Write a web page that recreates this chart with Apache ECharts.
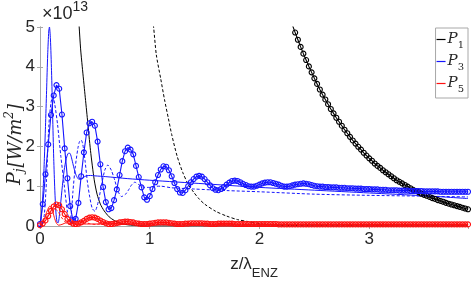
<!DOCTYPE html>
<html><head><meta charset="utf-8">
<script src="https://cdn.jsdelivr.net/npm/echarts@6/dist/echarts.min.js"></script>
<style>html,body{margin:0;padding:0;background:#fff}#c{width:471px;height:284px}</style>
</head><body><div id="c"></div>
<script>
// ---- data (values in units of 1e13 W/m^2, z in units of lambda_ENZ) ----
const zStep = 0.025;          // sampling step of the marker curves
const p3MarkerStart = 0;
const p5MarkerStart = 0;
const p1MarkerStart = 2.3;

const p3Markers = [
  0.05,0.55,1.30,2.05,2.79,3.28,3.54,3.45,2.80,1.95,
  1.20,0.50,0.15,0.18,0.58,1.25,1.85,2.35,2.58,2.62,
  2.52,2.12,1.55,0.98,0.60,0.42,0.45,0.65,0.92,1.28,
  1.63,1.88,1.97,1.92,1.80,1.51,1.23,0.97,0.72,0.66,
  0.75,0.93,1.10,1.28,1.42,1.50,1.49,1.40,1.25,1.08,
  0.93,0.84,0.83,0.90,1.00,1.10,1.18,1.24,1.26,1.24,
  1.18,1.10,1.02,0.95,0.91,0.90,0.93,0.98,1.04,1.09,
  1.13,1.14,1.13,1.10,1.06,1.03,1.00,0.99,0.99,1.01,
  1.04,1.07,1.09,1.10,1.10,1.08,1.06,1.04,1.01,0.99,
  0.99,1.00,1.02,1.04,1.05,1.06,1.07,1.06,1.05,1.03,
  1.01,1.00,0.99,0.99,0.98,0.98,0.97,0.97,0.97,0.96,
  0.96,0.96,0.95,0.95,0.95,0.94,0.94,0.94,0.93,0.93,
  0.93,0.92,0.92,0.92,0.91,0.91,0.91,0.90,0.90,0.90,
  0.90,0.89,0.89,0.89,0.89,0.88,0.88,0.88,0.88,0.88,
  0.87,0.87,0.87,0.87,0.87,0.87,0.86,0.86,0.86,0.86,
  0.86,0.86,0.86,0.86,0.86,0.86,0.86
];
const p5Markers = [
  0.02,0.06,0.14,0.25,0.38,0.49,0.54,0.52,0.42,0.30,
  0.18,0.10,0.06,0.05,0.06,0.09,0.13,0.18,0.21,0.22,
  0.21,0.18,0.14,0.10,0.07,0.05,0.05,0.06,0.07,0.09,
  0.10,0.11,0.11,0.10,0.09,0.07,0.06,0.05,0.05,0.05,
  0.06,0.07,0.08,0.09,0.09,0.09,0.09,0.08,0.07,0.06,
  0.05,0.05,0.05,0.06,0.06,0.07,0.07,0.07,0.07,0.07,
  0.06,0.06,0.05,0.05,0.05,0.06,0.06,0.06,0.06,0.06,
  0.06,0.05,0.05,0.05,0.05,0.05,0.05,0.05,0.05,0.05,
  0.05,0.05,0.05,0.05,0.05,0.05,0.05,0.04,0.04,0.04,
  0.04,0.04,0.04,0.04,0.04,0.04,0.04,0.04,0.04,0.04,
  0.04,0.04,0.04,0.04,0.04,0.04,0.04,0.04,0.04,0.04,
  0.04,0.04,0.04,0.04,0.04,0.04,0.04,0.04,0.04,0.04,
  0.04,0.04,0.04,0.04,0.04,0.04,0.04,0.04,0.04,0.04,
  0.04,0.04,0.04,0.04,0.04,0.04,0.04,0.04,0.04,0.04,
  0.04,0.04,0.04,0.04,0.04,0.04,0.04,0.04,0.04,0.04,
  0.04,0.04,0.04,0.04,0.04,0.04,0.04
];
const p1Markers = [
  5.05,4.86,4.68,4.50,4.33,4.17,4.01,3.86,3.71,
  3.57,3.43,3.30,3.18,3.06,2.94,2.83,2.72,2.62,2.52,
  2.42,2.33,2.24,2.15,2.07,1.99,1.92,1.84,1.77,1.70,
  1.64,1.57,1.51,1.46,1.40,1.35,1.30,1.25,1.20,1.15,
  1.11,1.07,1.03,0.99,0.95,0.91,0.88,0.85,0.81,0.78,
  0.76,0.73,0.70,0.68,0.65,0.63,0.61,0.58,0.56,0.54,
  0.52,0.50,0.48,0.46,0.44,0.42
];

const p1SolidZ = [0.34,0.357,0.37,0.385,0.41,0.433,0.46,0.494,0.52,0.55,0.585,0.63,0.676,0.73,0.8,0.9,1.0,2.0,3.9];
const p1SolidV = [5.7,5.0,4.45,4.0,3.3,2.66,1.9,1.16,0.8,0.55,0.38,0.23,0.14,0.07,0.03,0.01,0.0,0.0,0.0];
const p1DashZ  = [1.0,1.035,1.06,1.1,1.135,1.17,1.2,1.25,1.3,1.35,1.4,1.45,1.5,1.6,1.7,1.8,1.9,2.0,2.1,2.3,3.0,3.9];
const p1DashV  = [5.8,5.0,4.3,3.7,3.17,2.7,2.3,1.75,1.35,1.05,0.85,0.68,0.55,0.37,0.25,0.16,0.11,0.06,0.03,0.01,0,0];

const p3SolidZ = [0,0.01,0.02,0.03,0.04,0.05,0.06,0.07,0.08,0.086,0.095,0.105,0.115,0.125,0.135,0.145,0.155,0.165,0.18,0.2,0.22,0.24,0.26,0.275,0.29,0.31,0.33,0.35,0.37,0.39,0.42,0.46,0.5,0.6,0.8,1.0,1.5,2.0,2.5,3.0,3.5,3.9];
const p3SolidV = [0,0.15,0.5,1.0,1.7,2.5,3.4,4.3,4.9,5.0,4.7,3.9,2.8,1.7,0.9,0.35,0.1,0.08,0.35,0.9,1.4,1.7,1.83,1.82,1.68,1.45,1.27,1.18,1.17,1.21,1.26,1.27,1.26,1.24,1.19,1.15,1.06,0.97,0.9,0.83,0.76,0.69];
const p3DashZ  = [0,0.02,0.04,0.06,0.08,0.1,0.117,0.135,0.16,0.19,0.22,0.25,0.27,0.285,0.3,0.32,0.345,0.36,0.375,0.39,0.41,0.43,0.45,0.475,0.5,0.53,0.558,0.59,0.618,0.65,0.68,0.71,0.743,0.78,0.81,0.834,0.864,0.9,0.95,1.0,1.05,1.1,1.2,1.4,1.7,2.0,2.5,3.0,3.5,3.9];
const p3DashV  = [0,0.05,0.3,1.2,2.5,3.1,3.25,3.05,2.55,1.75,1.05,0.35,0.12,0.3,0.86,1.45,1.95,2.12,2.16,2.05,1.65,1.15,0.78,0.45,0.37,0.6,0.99,1.4,1.53,1.4,1.16,0.88,0.74,0.8,0.92,1.03,1.1,1.04,0.97,0.97,1.0,1.0,0.96,0.93,0.89,0.86,0.80,0.77,0.75,0.73];

const p5SolidZ = [0,0.02,0.04,0.06,0.08,0.09,0.1,0.115,0.13,0.15,0.17,0.2,0.24,0.28,0.33,0.4,0.5,1.0,2.0,3.0,3.9];
const p5SolidV = [0,0.06,0.18,0.34,0.47,0.5,0.48,0.38,0.22,0.07,0.02,0.04,0.08,0.07,0.04,0.05,0.05,0.05,0.04,0.03,0.03];
const p5DashZ  = [0,0.04,0.08,0.12,0.16,0.2,0.25,0.3,0.375,0.45,0.5,0.62,0.75,0.86,1.0,2.0,3.9];
const p5DashV  = [0,0.1,0.32,0.45,0.38,0.2,0.06,0.05,0.12,0.06,0.04,0.08,0.04,0.06,0.04,0.03,0.03];

const xTickStep = 1, xMin = 0, xMax = 3.9;
const yTickStep = 1, yMin = 0, yMax = 5;
const legendNames = ['P1','P3','P5'];

// ---- build ----
function sampled(start, vals){ return vals.map((v,i)=>[+(start + i*zStep).toFixed(4), v]); }
function pairs(zs, vs){ return zs.map((z,i)=>[z, vs[i]]); }

const BLACK='#000000', BLUE='#1515ff', RED='#ff1010', AX='#a8a8a8', TXT='#262626';
const SANS='Liberation Sans, Arial, sans-serif';

function lineSeries(name, data, color, dashed, smooth){
  return {name, type:'line', data, xAxisIndex:0, yAxisIndex:0, showSymbol:false, symbol:'none',
    smooth: smooth ? 0.25 : false, clip:true, silent:true, color,
    lineStyle:{color, width:1, type: dashed ? [3,2] : 'solid'}};
}
function markerSeries(name, data, color){
  return {name, type:'line', data, xAxisIndex:0, yAxisIndex:0, symbol:'circle', symbolSize:5,
    showSymbol:true, clip:true, silent:true, color,
    itemStyle:{color:'rgba(0,0,0,0)', borderColor:color, borderWidth:1.1},
    lineStyle:{color, width:1.1}};
}

const chart = echarts.init(document.getElementById('c'), null, {renderer:'canvas'});
const axisCommon = {
  axisLine:{show:true, lineStyle:{color:AX, width:1}},
  axisTick:{show:true, inside:true, length:3, lineStyle:{color:AX}},
  splitLine:{show:false}
};
chart.setOption({
  animation:false,
  backgroundColor:'#fff',
  grid:{left:40, top:27, width:428, height:199, containLabel:false, outerBoundsMode:'none'},
  xAxis:[
    Object.assign({type:'value', min:xMin, max:xMax, interval:xTickStep, position:'bottom',
      axisLabel:{color:TXT, fontSize:17, fontFamily:SANS, margin:5, showMaxLabel:false},
      name:'{a|z/λ}{s|ENZ}', nameLocation:'middle', nameGap:30, nameMoveOverlap:false,
      nameTextStyle:{rich:{
        a:{fontSize:17, fontFamily:SANS, color:TXT, lineHeight:17, verticalAlign:'top'},
        s:{fontSize:13, fontFamily:SANS, color:TXT, lineHeight:13, verticalAlign:'top', padding:[11,0,0,0]}
      }}}, axisCommon),
    Object.assign({type:'value', min:xMin, max:xMax, interval:xTickStep, position:'top',
      axisLabel:{show:false}}, axisCommon)
  ],
  yAxis:[
    Object.assign({type:'value', min:yMin, max:yMax, interval:yTickStep, position:'left',
      axisLabel:{color:TXT, fontSize:17, fontFamily:SANS, margin:5},
      name:'{p|P}{s|j}{t|[W/m}{u|2}{t|]}', nameLocation:'middle', nameGap:17, nameRotate:90, nameMoveOverlap:false,
      nameTextStyle:{padding:[0,36,0,0], rich:{
        p:{fontSize:19, fontFamily:'DejaVu Serif', fontStyle:'italic', color:TXT, lineHeight:19, verticalAlign:'top', padding:[2,0,0,0]},
        t:{fontSize:18, fontFamily:'DejaVu Serif', fontStyle:'italic', color:TXT, lineHeight:18, verticalAlign:'top', padding:[3,0,0,0]},
        s:{fontSize:12, fontFamily:'DejaVu Serif', fontStyle:'italic', color:TXT, lineHeight:12, verticalAlign:'top', padding:[10,1,0,0]},
        u:{fontSize:12, fontFamily:'DejaVu Serif', fontStyle:'italic', color:TXT, lineHeight:12, verticalAlign:'top', padding:[0,0,0,0]}
      }}}, axisCommon),
    Object.assign({type:'value', min:yMin, max:yMax, interval:yTickStep, position:'right',
      axisLabel:{show:false}}, axisCommon)
  ],
  graphic:[{type:'text', left:42, top:0, silent:true,
    style:{text:'{a|×10}{b|13}', rich:{
      a:{fontSize:18, fontFamily:SANS, fill:TXT, lineHeight:18, verticalAlign:'top', padding:[5,0,0,0]},
      b:{fontSize:14, fontFamily:SANS, fill:TXT, lineHeight:14, verticalAlign:'top'}
    }}}],
  legend:{data:legendNames, orient:'vertical', right:3, top:28, padding:[4,4,4,1], itemGap:4,
    backgroundColor:'#fff', borderColor:AX, borderWidth:1, borderRadius:0,
    icon:'rect', itemWidth:9, itemHeight:1.2, selectedMode:false,
    formatter: n => '{p|P}{s|' + n.slice(1) + '}',
    textStyle:{padding:[0,0,0,-3], rich:{
      p:{fontSize:15, fontFamily:'DejaVu Serif', fontStyle:'italic', color:TXT, lineHeight:15, verticalAlign:'top'},
      s:{fontSize:10, fontFamily:'DejaVu Serif', color:TXT, lineHeight:10, verticalAlign:'top', padding:[8,0,0,0]}
    }}},
  series:[
    lineSeries('P1', pairs(p1SolidZ, p1SolidV), BLACK, false, true),
    lineSeries('P1 dashed', pairs(p1DashZ, p1DashV), BLACK, true, true),
    markerSeries('P1 markers', sampled(p1MarkerStart, p1Markers), BLACK),
    lineSeries('P3', pairs(p3SolidZ, p3SolidV), BLUE, false, true),
    lineSeries('P3 dashed', pairs(p3DashZ, p3DashV), BLUE, true, true),
    markerSeries('P3 markers', sampled(p3MarkerStart, p3Markers), BLUE),
    lineSeries('P5', pairs(p5SolidZ, p5SolidV), RED, false, true),
    lineSeries('P5 dashed', pairs(p5DashZ, p5DashV), RED, true, true),
    markerSeries('P5 markers', sampled(p5MarkerStart, p5Markers), RED)
  ]
});
</script></body></html>
